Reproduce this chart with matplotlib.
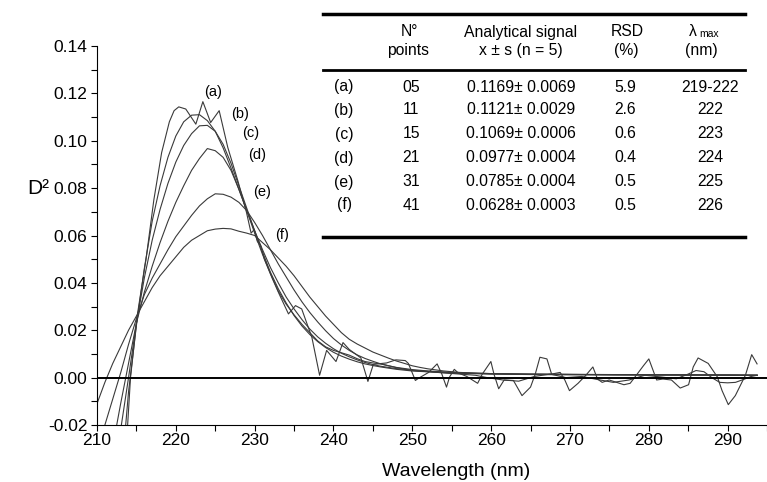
import matplotlib
matplotlib.use("Agg")
import matplotlib.pyplot as plt
from matplotlib.lines import Line2D

plt.rcParams['font.family'] = ['Liberation Sans', 'DejaVu Sans']

# ---------------- data ----------------
wl_f = [210, 211, 212, 213, 214, 215, 216, 217, 218, 219, 220, 221, 222, 223, 224, 225, 226, 227,
        228, 229, 230, 231, 232, 233, 234, 235, 236, 237, 238, 239, 240, 241, 242, 243, 244, 245,
        246, 247, 248, 249, 250, 251, 252, 254, 256, 258, 260, 264, 268, 272, 276, 280, 285, 290, 293.75]
d2_f = [-0.011, -0.002, 0.006, 0.013, 0.020, 0.026, 0.032, 0.038, 0.043, 0.047, 0.051, 0.055, 0.058,
        0.060, 0.062, 0.0627, 0.0630, 0.0628, 0.0618, 0.0610, 0.0600, 0.0570, 0.0540, 0.0505, 0.0470,
        0.0430, 0.0385, 0.0340, 0.0300, 0.0260, 0.0225, 0.0190, 0.0162, 0.0142, 0.0125, 0.0108, 0.0095,
        0.0082, 0.0070, 0.0060, 0.0050, 0.0043, 0.0037, 0.0028, 0.0022, 0.0019, 0.0017, 0.0015, 0.0014,
        0.0013, 0.0012, 0.0012, 0.0011, 0.0011, 0.0010]

wl_e = [210, 211, 212, 213, 214, 215, 216, 217, 218, 219, 220, 221, 222, 223, 224, 225, 226, 227,
        228, 229, 230, 231, 232, 233, 234, 235, 236, 237, 238, 239, 240, 241, 242, 243, 244, 245,
        246, 247, 248, 250, 252, 255, 260, 265, 270, 275, 280, 285, 290, 293.75]
d2_e = [-0.029, -0.020, -0.009, 0.002, 0.014, 0.025, 0.035, 0.042, 0.048, 0.054, 0.0595, 0.064, 0.0685,
        0.0725, 0.0755, 0.0776, 0.0774, 0.0762, 0.0740, 0.0705, 0.0655, 0.0600, 0.0540, 0.0480, 0.0425,
        0.0370, 0.0320, 0.0275, 0.0235, 0.0198, 0.0165, 0.0138, 0.0115, 0.0096, 0.0081, 0.0069, 0.0058,
        0.0050, 0.0043, 0.0034, 0.0028, 0.0022, 0.0017, 0.0015, 0.0014, 0.0013, 0.0012, 0.0012, 0.0011,
        0.0010]

wl_d = [210, 211, 212, 213, 214, 215, 216, 217, 218, 219, 220, 221, 222, 223, 224, 225, 226, 227,
        228, 229, 230, 231, 232, 233, 234, 235, 236, 237, 238, 239, 240, 241, 242, 243, 244, 245,
        246, 248, 250, 255, 260, 265, 270, 275, 280, 285, 290, 293.75]
d2_d = [-0.060, -0.045, -0.029, -0.011, 0.006, 0.023, 0.036, 0.047, 0.057, 0.066, 0.074, 0.081, 0.0875,
        0.0925, 0.0967, 0.0958, 0.0930, 0.0875, 0.0795, 0.0705, 0.0620, 0.0540, 0.0465, 0.0400, 0.0340,
        0.0290, 0.0245, 0.0205, 0.0172, 0.0145, 0.0122, 0.0103, 0.0088, 0.0075, 0.0064, 0.0055, 0.0048,
        0.0038, 0.0031, 0.0020, 0.0016, 0.0014, 0.0013, 0.0012, 0.0012, 0.0011, 0.0011, 0.0010]

wl_c = [210, 211, 212, 213, 214, 215, 216, 217, 218, 219, 220, 221, 222, 223, 224, 225, 226, 227,
        228, 229, 230, 231, 232, 233, 234, 235, 236, 237, 238, 239, 240, 241, 242, 243, 244, 245,
        246, 248, 250, 255, 260, 265, 270, 275, 280, 285, 290, 293.75]
d2_c = [-0.080, -0.070, -0.045, -0.022, 0.000, 0.023, 0.042, 0.058, 0.071, 0.082, 0.091, 0.098, 0.103,
        0.1063, 0.1065, 0.1040, 0.0985, 0.0905, 0.0810, 0.0715, 0.0620, 0.0530, 0.0445, 0.0375, 0.0315,
        0.0262, 0.0218, 0.0182, 0.0152, 0.0127, 0.0107, 0.0091, 0.0078, 0.0067, 0.0058, 0.0051, 0.0045,
        0.0035, 0.0028, 0.0019, 0.0015, 0.0013, 0.0012, 0.0012, 0.0011, 0.0011, 0.0010, 0.0010]

wl_b = [210, 211, 212, 213, 214, 215, 216, 217, 218, 219, 220, 221, 222, 223, 224, 225, 226, 227,
        228, 229, 230, 231, 232, 233, 234, 235, 236, 237, 238, 239, 240, 241, 242, 243, 244, 245,
        246, 247, 248, 249, 250, 252, 254, 256, 258, 259.5, 261.5, 263.5, 265.5, 267.5, 269.5, 271.5,
        273.5, 275.5, 277.5, 279.5, 281.5, 283.5, 285, 286, 287, 288, 289, 290, 291, 292, 293, 293.75]
d2_b = [-0.090, -0.100, -0.080, -0.045, -0.006, 0.022, 0.046, 0.066, 0.081, 0.093, 0.102, 0.108, 0.1108,
        0.1110, 0.1085, 0.1040, 0.0970, 0.0885, 0.0795, 0.0705, 0.0610, 0.0520, 0.0440, 0.0365, 0.0310,
        0.0265, 0.0225, 0.0190, 0.0155, 0.0130, 0.0115, 0.0105, 0.0095, 0.0080, 0.0068, 0.0062, 0.0058,
        0.0050, 0.0042, 0.0036, 0.0030, 0.0025, 0.0020, 0.0015, 0.0010, 0.0000, -0.0010, -0.0015,
        0.0005, 0.0015, 0.0000, 0.0005, -0.0008, -0.0020, -0.0010, 0.0010, 0.0003, -0.0005, 0.0015,
        0.0030, 0.0025, 0.0000, -0.0020, -0.0022, -0.0020, -0.0008, 0.0005, 0.0010]

wl_a = [210, 212.96, 213.46, 213.85, 214.25, 215.14, 216.22, 217.21, 218.20, 219.18, 219.78, 220.37,
        221.26, 222.54, 223.43, 224.42, 225.50, 226.59, 227.87, 228.96, 229.55, 229.95, 230.34, 230.74,
        231.23, 232.22, 233.11, 234.29, 235.18, 235.97, 237.26, 238.24, 239.13, 240.32, 241.21, 242.00,
        243.48, 244.37, 245.06, 246.74, 247.92, 249.11, 249.50, 250.39, 250.78, 252.07, 253.15, 253.75,
        254.34, 254.73, 255.33, 255.82, 256.91, 258.29, 258.88, 259.97, 260.36, 260.96, 261.65, 262.83,
        263.92, 265.00, 265.60, 266.19, 267.08, 267.67, 268.76, 269.35, 269.94, 271.03, 272.02, 272.91,
        273.50, 274.09, 274.98, 276.85, 277.64, 278.53, 279.32, 280.01, 281.00, 281.79, 282.88, 283.99,
        285.05, 285.64, 286.26, 287.54, 288.70, 289.30, 290.09, 290.98, 292.26, 293.06, 293.74]
d2_a = [-0.200, -0.120, -0.070, -0.022, 0.000, 0.027, 0.050, 0.075, 0.095, 0.108, 0.1127, 0.1143, 0.1134,
        0.1070, 0.1165, 0.1077, 0.1127, 0.0972, 0.0831, 0.0698, 0.0610, 0.0625, 0.0575, 0.0560, 0.0500,
        0.0420, 0.0353, 0.0269, 0.0304, 0.0290, 0.0170, 0.0010, 0.0115, 0.0068, 0.0148, 0.0119, 0.0083,
        -0.0016, 0.0056, 0.0062, 0.0075, 0.0072, 0.0060, -0.0012, -0.0003, 0.0022, 0.0058, 0.0015,
        -0.0040, 0.0003, 0.0035, 0.0020, 0.0005, -0.0024, 0.0015, 0.0068, 0.0015, -0.0047, -0.0010,
        -0.0012, -0.0076, -0.0040, 0.0015, 0.0086, 0.0079, 0.0015, 0.0022, -0.0010, -0.0055, -0.0024,
        0.0010, 0.0045, -0.0006, -0.0020, -0.0010, -0.0030, -0.0024, 0.0015, 0.0050, 0.0079, -0.0010,
        -0.0006, -0.0010, -0.0044, -0.0030, 0.0045, 0.0083, 0.0060, 0.0003, -0.0055, -0.0114, -0.0076,
        0.0010, 0.0097, 0.0058]

curve_labels = ['(a)', '(b)', '(c)', '(d)', '(e)', '(f)']
label_wl = [224.75, 228.1, 229.55, 230.3, 231.0, 233.5]
label_d2 = [0.1204, 0.1113, 0.1032, 0.0941, 0.0782, 0.0603]

xticks = [210, 220, 230, 240, 250, 260, 270, 280, 290]
yticks = [-0.02, 0.00, 0.02, 0.04, 0.06, 0.08, 0.10, 0.12, 0.14]

row_labels = ['(a)', '(b)', '(c)', '(d)', '(e)', '(f)']
n_points = ['05', '11', '15', '21', '31', '41']
signal_mean = ['0.1169', '0.1121', '0.1069', '0.0977', '0.0785', '0.0628']
signal_sd = ['0.0069', '0.0029', '0.0006', '0.0004', '0.0004', '0.0003']
rsd = ['5.9', '2.6', '0.6', '0.4', '0.5', '0.5']
lambda_max = ['219-222', '222', '223', '224', '225', '226']

# ---------------- figure ----------------
W, H = 767, 482
fig = plt.figure(figsize=(W / 100, H / 100), dpi=100)
ax = fig.add_axes([97 / W, (H - 425) / H, 670 / W, 379 / H])

line_col = '#3a3a3a'
for wl, d2 in [(wl_f, d2_f), (wl_e, d2_e), (wl_d, d2_d), (wl_c, d2_c), (wl_b, d2_b), (wl_a, d2_a)]:
    ax.plot(wl, d2, color=line_col, lw=0.8)

ax.axhline(0.0, color='black', lw=1.4, zorder=5)

for t, xw, yv in zip(curve_labels, label_wl, label_d2):
    ax.text(xw, yv, t, fontsize=10.5, ha='center', va='center')

ax.set_xlim(210, 293.75)
ax.set_ylim(-0.02, 0.14)
ax.set_xticks(xticks)
ax.set_xticklabels([str(v) for v in xticks])
ax.set_xticks([v + 5 for v in xticks], minor=True)
ax.set_yticks(yticks)
ax.set_yticklabels(['%.2f' % v for v in yticks])
ax.set_yticks([v + 0.01 for v in yticks[:-1]], minor=True)
for s in ['top', 'right']:
    ax.spines[s].set_visible(False)
for s in ['left', 'bottom']:
    ax.spines[s].set_linewidth(0.8)
ax.tick_params(which='both', direction='out', length=4, width=0.8, labelsize=12.5)
ax.tick_params(axis='y', pad=3)
ax.tick_params(axis='x', pad=2)


def fx(x):
    return x / W


def fy(y):
    return 1 - y / H


fig.text(fx(456), fy(471), 'Wavelength (nm)', fontsize=14, ha='center', va='center')
fig.text(fx(38), fy(188), 'D²', fontsize=15, ha='center', va='center')

# ---------------- table ----------------
for yl, lw in [(14, 2.5), (70, 2.0), (237, 2.5)]:
    fig.add_artist(Line2D([fx(323), fx(745)], [fy(yl), fy(yl)], color='black', lw=lw))

fs = 11.3
fig.text(fx(409), fy(32), 'N°', fontsize=fs, ha='center', va='center')
fig.text(fx(408), fy(51), 'points', fontsize=fs, ha='center', va='center')
fig.text(fx(521), fy(32), 'Analytical signal', fontsize=fs, ha='center', va='center')
fig.text(fx(521), fy(51), 'x ± s (n = 5)', fontsize=fs, ha='center', va='center')
fig.text(fx(627), fy(32), 'RSD', fontsize=fs, ha='center', va='center')
fig.text(fx(626), fy(51), '(%)', fontsize=fs, ha='center', va='center')
fig.text(fx(697), fy(32), 'λ', fontsize=fs, ha='right', va='center')
fig.text(fx(699), fy(34), 'max', fontsize=7.5, ha='left', va='center')
fig.text(fx(701), fy(51), '(nm)', fontsize=fs, ha='center', va='center')

row_y = [87, 110, 134, 158, 182, 205]
for i, ry in enumerate(row_y):
    fig.text(fx(344), fy(ry), row_labels[i], fontsize=fs, ha='center', va='center')
    fig.text(fx(411), fy(ry), n_points[i], fontsize=fs, ha='center', va='center')
    fig.text(fx(521), fy(ry), signal_mean[i] + '± ' + signal_sd[i], fontsize=fs, ha='center', va='center')
    fig.text(fx(625), fy(ry), rsd[i], fontsize=fs, ha='center', va='center')
    fig.text(fx(710), fy(ry), lambda_max[i], fontsize=fs, ha='center', va='center')

fig.savefig('out.png', dpi=100)
